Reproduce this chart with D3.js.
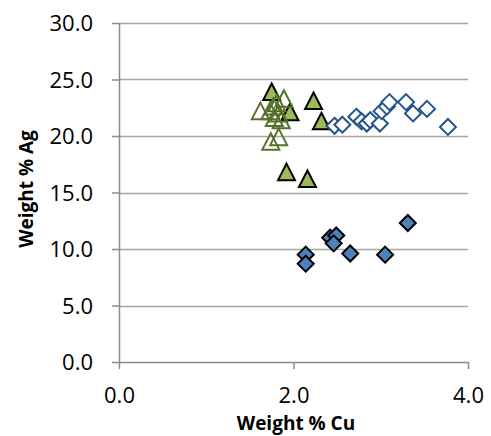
<!DOCTYPE html>
<html>
<head>
<meta charset="utf-8">
<script src="https://cdn.jsdelivr.net/npm/d3@7"></script>
<style>
  html, body { margin: 0; padding: 0; background: #fff; }
  svg { display: block; }
  text { font-family: "Open Sans", "Liberation Sans", sans-serif; fill: #000; }
</style>
</head>
<body>
<div id="chart"></div>
<script>
// ---- data (Weight % Cu, Weight % Ag) ----
const filledDiamondsCu = [2.14, 2.14, 2.42, 2.49, 2.46, 2.65, 3.05, 3.31];
const filledDiamondsAg = [9.5, 8.7, 11.0, 11.2, 10.5, 9.6, 9.5, 12.3];

const filledTrianglesCu = [1.75, 2.23, 2.32, 1.96, 1.92, 2.16];
const filledTrianglesAg = [23.9, 23.1, 21.3, 22.1, 16.8, 16.2];

const hollowDiamondsCu = [2.47, 2.56, 2.72, 2.78, 2.84, 2.88, 2.99, 3.01, 3.07, 3.10, 3.29, 3.37, 3.53, 3.77];
const hollowDiamondsAg = [20.9, 21.0, 21.7, 21.3, 21.1, 21.4, 21.1, 22.2, 22.6, 23.0, 23.0, 22.0, 22.4, 20.8];

const hollowTrianglesCu = [1.89, 1.81, 1.77, 1.62, 1.73, 1.83, 1.78, 1.86, 1.83, 1.74];
const hollowTrianglesAg = [23.3, 22.9, 22.6, 22.2, 22.2, 22.0, 21.6, 21.4, 19.9, 19.5];

const xTicks = [0, 2, 4];
const yTicks = [0, 5, 10, 15, 20, 25, 30];
const xTitle = "Weight % Cu";
const yTitle = "Weight % Ag";

// ---- layout ----
const W = 491, H = 436;
const svg = d3.select("#chart").append("svg").attr("width", W).attr("height", H);

const x = d3.scaleLinear().domain([0, 4]).range([119, 468]);
const y = d3.scaleLinear().domain([0, 30]).range([362, 23]);

const gridColor = "#a6a6a6";
const axisColor = "#8c8c8c";

// gridlines
svg.append("g").selectAll("line").data(yTicks.filter(d => d > 0)).join("line")
  .attr("x1", x(0)).attr("x2", x(4))
  .attr("y1", d => Math.round(y(d)) + 0.5).attr("y2", d => Math.round(y(d)) + 0.5)
  .attr("stroke", gridColor).attr("stroke-width", 1.5);

// y axis
const yAxis = svg.append("g").attr("transform", `translate(${x(0)},0)`)
  .call(d3.axisLeft(y).tickValues(yTicks).tickFormat(d3.format(".1f")).tickSize(7).tickSizeOuter(0));
yAxis.select(".domain").attr("stroke", axisColor).attr("stroke-width", 1.5);
yAxis.selectAll(".tick line").attr("stroke", axisColor).attr("stroke-width", 1.5);
yAxis.selectAll(".tick text").attr("x", -26).attr("dy", "0.36em")
  .style("font-size", "22px").style("font-family", "'Open Sans', sans-serif").attr("fill", "#000");

// x axis
const xAxis = svg.append("g").attr("transform", `translate(0,${y(0)})`)
  .call(d3.axisBottom(x).tickValues(xTicks).tickFormat(d3.format(".1f")).tickSize(7).tickSizeOuter(0));
xAxis.select(".domain").attr("stroke", axisColor).attr("stroke-width", 1.5);
xAxis.selectAll(".tick line").attr("stroke", axisColor).attr("stroke-width", 1.5);
xAxis.selectAll(".tick text").attr("y", 41).attr("dy", 0)
  .style("font-size", "22px").style("font-family", "'Open Sans', sans-serif").attr("fill", "#000");

// titles
svg.append("text").attr("x", 296).attr("y", 430).attr("text-anchor", "middle")
  .style("font-size", "19px").style("font-weight", "bold").text(xTitle);
svg.append("text").attr("transform", `translate(33,189) rotate(-90)`).attr("text-anchor", "middle")
  .style("font-size", "19px").style("font-weight", "bold").text(yTitle);

// markers
const tri = "M0,-8.5L8.5,8L-8.5,8Z";
const dia = "M0,-8L8,0L0,8L-8,0Z";

function drawSeries(xs, ys, path, fill, stroke, sw) {
  svg.append("g").selectAll("path").data(xs.map((d, i) => [d, ys[i]])).join("path")
    .attr("d", path)
    .attr("transform", d => `translate(${x(d[0])},${y(d[1])})`)
    .attr("fill", fill).attr("stroke", stroke).attr("stroke-width", sw)
    .attr("stroke-linejoin", "miter");
}

drawSeries(filledDiamondsCu, filledDiamondsAg, dia, "#4F81BD", "#000", 2);
drawSeries(filledTrianglesCu, filledTrianglesAg, tri, "#9BBB59", "#000", 2);
drawSeries(hollowDiamondsCu, hollowDiamondsAg, dia, "#fff", "#24548c", 2);
drawSeries(hollowTrianglesCu, hollowTrianglesAg, tri, "none", "#56722a", 2);
</script>
</body>
</html>
